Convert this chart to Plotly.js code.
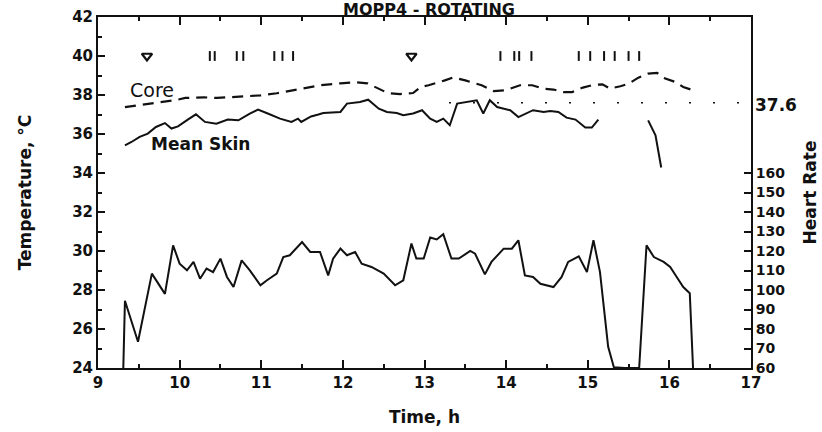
<!DOCTYPE html>
<html>
<head>
<meta charset="utf-8">
<script src="https://cdn.plot.ly/plotly-3.0.1.min.js"></script>
<style>html,body{margin:0;padding:0;background:#fff;}#chart{width:822px;height:432px;}</style>
</head>
<body>
<div id="chart"></div>
<script>
// Core temperature (dashed)
var coreTime = [9.33, 9.65, 9.94, 10.07, 10.30, 10.46, 10.74, 10.99, 11.19, 11.39, 11.55, 11.72, 11.97, 12.17, 12.30, 12.46, 12.55, 12.70, 12.86, 12.95, 13.05, 13.25, 13.35, 13.50, 13.70, 13.85, 14.00, 14.17, 14.32, 14.45, 14.58, 14.70, 14.81, 14.94, 15.05, 15.18, 15.27, 15.40, 15.50, 15.62, 15.74, 15.85, 15.95, 16.07, 16.17, 16.32];
var coreTemp = [37.38, 37.55, 37.73, 37.85, 37.88, 37.85, 37.90, 37.98, 38.09, 38.25, 38.34, 38.50, 38.60, 38.65, 38.60, 38.30, 38.10, 38.05, 38.10, 38.40, 38.50, 38.75, 38.90, 38.75, 38.50, 38.20, 38.25, 38.50, 38.50, 38.33, 38.28, 38.15, 38.15, 38.38, 38.50, 38.55, 38.33, 38.45, 38.58, 38.89, 39.10, 39.13, 38.84, 38.67, 38.41, 38.20];

// Mean skin temperature (solid), two segments
var skinTime1 = [9.33, 9.41, 9.51, 9.61, 9.71, 9.82, 9.90, 9.98, 10.10, 10.20, 10.31, 10.45, 10.59, 10.72, 10.86, 10.96, 11.08, 11.23, 11.37, 11.45, 11.49, 11.61, 11.70, 11.76, 11.97, 12.05, 12.21, 12.31, 12.44, 12.54, 12.66, 12.74, 12.86, 12.97, 13.07, 13.15, 13.23, 13.31, 13.40, 13.52, 13.64, 13.72, 13.80, 13.89, 14.05, 14.15, 14.33, 14.46, 14.54, 14.64, 14.74, 14.85, 14.97, 15.05, 15.13];
var skinTemp1 = [35.42, 35.59, 35.85, 36.02, 36.36, 36.56, 36.28, 36.39, 36.74, 37.01, 36.62, 36.53, 36.74, 36.70, 37.05, 37.25, 37.05, 36.79, 36.62, 36.79, 36.62, 36.90, 37.00, 37.08, 37.13, 37.56, 37.64, 37.76, 37.30, 37.13, 37.08, 36.96, 37.05, 37.22, 36.79, 36.62, 36.79, 36.45, 37.56, 37.64, 37.73, 37.05, 37.73, 37.38, 37.22, 36.87, 37.22, 37.13, 37.18, 37.13, 36.84, 36.74, 36.33, 36.33, 36.74];
var skinTime2 = [15.74, 15.83, 15.90];
var skinTemp2 = [36.70, 35.93, 34.28];

// Heart rate (right axis)
var hrTime = [9.31, 9.33, 9.49, 9.66, 9.82, 9.92, 10.00, 10.09, 10.17, 10.25, 10.33, 10.41, 10.50, 10.58, 10.66, 10.76, 10.86, 10.99, 11.07, 11.19, 11.27, 11.35, 11.50, 11.60, 11.72, 11.82, 11.88, 11.97, 12.05, 12.15, 12.23, 12.35, 12.50, 12.64, 12.74, 12.84, 12.90, 12.99, 13.07, 13.15, 13.23, 13.33, 13.42, 13.56, 13.62, 13.74, 13.82, 13.97, 14.07, 14.15, 14.23, 14.33, 14.42, 14.58, 14.68, 14.76, 14.89, 14.99, 15.07, 15.15, 15.25, 15.32, 15.45, 15.63, 15.72, 15.81, 15.93, 16.01, 16.09, 16.17, 16.25, 16.29];
var hrValue = [60, 94.5, 73.5, 108.4, 98, 122.9, 113.5, 110.1, 114.4, 105.8, 111, 109.2, 116.1, 106.7, 101.5, 115.2, 110.1, 102.4, 105, 108.4, 116.9, 117.8, 124.6, 119.5, 119.5, 107.5, 116.1, 121.2, 117.8, 119.5, 113.5, 111.8, 108.4, 102.4, 105, 123.8, 116.1, 116.1, 126.9, 125.9, 128.6, 116.1, 116.1, 120, 118.6, 108, 114.4, 121.2, 121.2, 125.5, 107.5, 106.7, 103.2, 101.5, 106.7, 114.4, 117.3, 109.2, 125.5, 109.2, 70.9, 60.4, 60, 60, 122.9, 116.9, 114.4, 111.8, 106.7, 101.5, 98.3, 60];

// Event markers at 40 °C
var triTime = [9.60, 12.84];
var triLevel = [40, 40];
var tickTime = [10.37, 10.43, 10.70, 10.78, 11.16, 11.26, 11.39, 13.93, 14.10, 14.16, 14.31, 14.89, 15.03, 15.20, 15.33, 15.50, 15.63];
var tickLevel = tickTime.map(function(){ return 40; });

// Reference line
var refTime = [13.3, 17];
var refTemp = [37.6, 37.6];

// Axis ticks
var xTicks = [9, 10, 11, 12, 13, 14, 15, 16, 17];
var yTicks = [24, 26, 28, 30, 32, 34, 36, 38, 40, 42];
var hrTicks = [60, 70, 80, 90, 100, 110, 120, 130, 140, 150, 160];

var FONT = 'DejaVu Sans, Liberation Sans, Arial, sans-serif';
var ink = '#111';

var traces = [
  {x: refTime, y: refTemp, mode: 'lines', line: {color: ink, width: 1.5, dash: '2px,22px'}, hoverinfo: 'skip'},
  {x: coreTime, y: coreTemp, mode: 'lines', line: {color: ink, width: 2.2, dash: '11px,7px'}},
  {x: skinTime1, y: skinTemp1, mode: 'lines', line: {color: ink, width: 2}},
  {x: skinTime2, y: skinTemp2, mode: 'lines', line: {color: ink, width: 2}},
  {x: hrTime, y: hrValue, yaxis: 'y2', mode: 'lines', line: {color: ink, width: 2}},
  {x: triTime, y: triLevel, mode: 'markers', marker: {symbol: 'triangle-down-open', size: 9, color: ink, line: {width: 2.2, color: ink}}},
  {x: tickTime, y: tickLevel, mode: 'markers', marker: {symbol: 'line-ns-open', size: 7, color: ink, line: {width: 2, color: ink}}}
];

var layout = {
  width: 822, height: 432,
  margin: {l: 98, r: 71, t: 17, b: 64},
  paper_bgcolor: '#fff', plot_bgcolor: 'rgba(0,0,0,0)',
  showlegend: false,
  font: {family: FONT, color: ink},
  title: {text: 'MOPP4 - ROTATING', font: {family: FONT, size: 16, weight: 700, color: ink},
          x: 429/822, xanchor: 'center', xref: 'container', y: 1 - 15.3/432, yref: 'container', yanchor: 'bottom'},
  xaxis: {
    range: [9, 17], tickmode: 'array', tickvals: xTicks,
    ticks: 'inside', ticklen: 8, tickwidth: 1.8, tickcolor: ink,
    showline: true, linewidth: 2, linecolor: ink, mirror: 'ticks',
    minor: {dtick: 0.5, ticks: 'inside', ticklen: 4, tickwidth: 1.5, tickcolor: ink},
    showgrid: false, zeroline: false,
    tickfont: {family: FONT, size: 15, weight: 700, color: ink},
    title: {text: 'Time, h', font: {family: FONT, size: 17, weight: 700, color: ink}, standoff: 20}
  },
  yaxis: {
    range: [24, 42], tickmode: 'array', tickvals: yTicks,
    ticks: 'inside', ticklen: 7, tickwidth: 1.8, tickcolor: ink,
    showline: true, linewidth: 2, linecolor: ink, mirror: false,
    minor: {dtick: 1, ticks: 'inside', ticklen: 4, tickwidth: 1.5, tickcolor: ink},
    showgrid: false, zeroline: false,
    tickfont: {family: FONT, size: 15, weight: 700, color: ink},
    title: {text: 'Temperature, °C', font: {family: FONT, size: 17, weight: 700, color: ink}, standoff: 36}
  },
  yaxis2: {
    overlaying: 'y', side: 'right', range: [60, 240],
    tickmode: 'array', tickvals: hrTicks,
    ticks: 'inside', ticklen: 7, tickwidth: 1.8, tickcolor: ink,
    showline: true, linewidth: 2, linecolor: ink,
    showgrid: false, zeroline: false,
    tickfont: {family: FONT, size: 14, weight: 700, color: ink},
    title: {text: 'Heart Rate', font: {family: FONT, size: 17, weight: 700, color: ink}, standoff: 20}
  },
  annotations: [
    {text: 'Core', x: 9.66, y: 38.24, xref: 'x', yref: 'y', showarrow: false, font: {family: FONT, size: 19, color: ink}},
    {text: 'Mean Skin', x: 10.26, y: 35.47, xref: 'x', yref: 'y', showarrow: false, font: {family: FONT, size: 17, weight: 700, color: ink}},
    {text: '37.6', x: 1.003, xanchor: 'left', y: 37.5, xref: 'paper', yref: 'y', showarrow: false, font: {family: FONT, size: 17, weight: 700, color: ink}}
  ]
};

Plotly.newPlot('chart', traces, layout, {displayModeBar: false});
</script>
</body>
</html>
